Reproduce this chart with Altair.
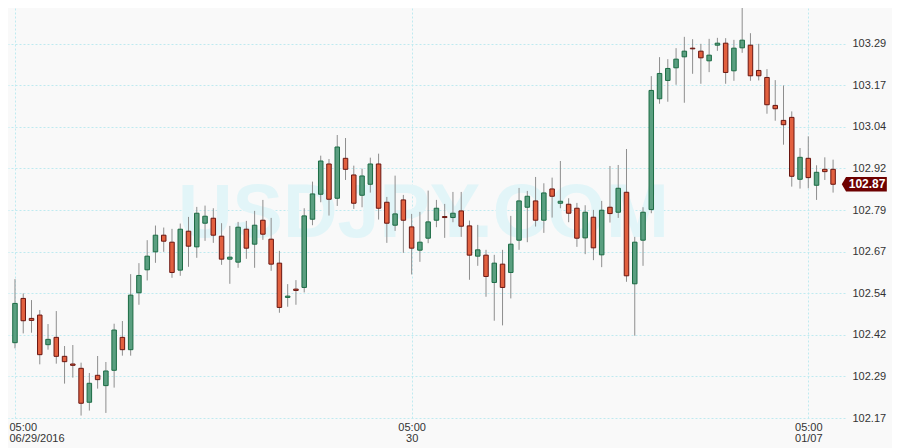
import altair as alt
import pandas as pd

# 30-minute candles, USD/JPY, starting 06/29/2016 05:00
opens = [102.393, 102.526, 102.466, 102.476, 102.387, 102.409, 102.352, 102.329, 102.316, 102.214,
         102.295, 102.264, 102.310, 102.409, 102.372, 102.543, 102.612, 102.666, 102.716, 102.695,
         102.611, 102.728, 102.681, 102.752, 102.767, 102.713, 102.644, 102.635, 102.734, 102.689,
         102.761, 102.704, 102.632, 102.529, 102.554, 102.559, 102.764, 102.839, 102.930, 102.827,
         102.947, 102.897, 102.836, 102.869, 102.930, 102.815, 102.746, 102.822, 102.741, 102.671,
         102.707, 102.761, 102.772, 102.769, 102.789, 102.744, 102.653, 102.656, 102.574, 102.629,
         102.604, 102.701, 102.800, 102.819, 102.761, 102.855, 102.812, 102.809, 102.797, 102.708,
         102.770, 102.657, 102.800, 102.785, 102.845, 102.570, 102.701, 102.793, 103.126, 103.181,
         103.219, 103.252, 103.278, 103.269, 103.240, 103.287, 103.293, 103.210, 103.279, 103.287,
         103.211, 103.190, 103.106, 103.061, 103.070, 102.884, 102.947, 102.866, 102.914, 102.914]
highs = [102.584, 102.541, 102.521, 102.491, 102.449, 102.488, 102.383, 102.386, 102.333, 102.302,
         102.353, 102.335, 102.450, 102.458, 102.599, 102.632, 102.701, 102.745, 102.739, 102.735,
         102.751, 102.771, 102.801, 102.805, 102.797, 102.752, 102.744, 102.756, 102.759, 102.789,
         102.822, 102.768, 102.669, 102.569, 102.581, 102.797, 102.877, 102.955, 102.945, 103.017,
         103.008, 102.925, 102.916, 102.949, 102.961, 102.831, 102.895, 102.837, 102.780, 102.786,
         102.850, 102.822, 102.810, 102.846, 102.846, 102.760, 102.747, 102.672, 102.657, 102.672,
         102.774, 102.858, 102.849, 102.891, 102.872, 102.889, 102.939, 102.827, 102.813, 102.806,
         102.792, 102.819, 102.924, 102.927, 102.975, 102.711, 102.800, 103.194, 103.251, 103.245,
         103.278, 103.312, 103.305, 103.291, 103.306, 103.309, 103.308, 103.303, 103.415, 103.323,
         103.291, 103.215, 103.182, 103.166, 103.088, 102.978, 103.013, 102.926, 102.950, 102.943]
lows = [102.376, 102.421, 102.423, 102.328, 102.372, 102.330, 102.270, 102.288, 102.174, 102.189,
        102.255, 102.182, 102.258, 102.354, 102.354, 102.507, 102.580, 102.633, 102.666, 102.588,
        102.594, 102.621, 102.648, 102.699, 102.693, 102.627, 102.570, 102.618, 102.645, 102.618,
        102.702, 102.609, 102.483, 102.501, 102.507, 102.544, 102.746, 102.815, 102.775, 102.804,
        102.882, 102.795, 102.800, 102.844, 102.763, 102.693, 102.729, 102.663, 102.598, 102.636,
        102.692, 102.740, 102.708, 102.755, 102.711, 102.582, 102.624, 102.531, 102.459, 102.445,
        102.526, 102.672, 102.695, 102.742, 102.723, 102.769, 102.797, 102.755, 102.681, 102.659,
        102.641, 102.620, 102.754, 102.768, 102.576, 102.414, 102.624, 102.782, 103.111, 103.117,
        103.168, 103.114, 103.201, 103.171, 103.206, 103.270, 103.171, 103.180, 103.264, 103.180,
        103.181, 103.081, 103.060, 102.988, 102.862, 102.856, 102.857, 102.822, 102.882, 102.844]
closes = [102.511, 102.459, 102.460, 102.357, 102.403, 102.352, 102.336, 102.325, 102.211, 102.271,
          102.282, 102.308, 102.431, 102.372, 102.536, 102.595, 102.653, 102.716, 102.698, 102.604,
          102.734, 102.683, 102.782, 102.773, 102.716, 102.644, 102.650, 102.740, 102.677, 102.746,
          102.719, 102.629, 102.499, 102.533, 102.550, 102.774, 102.840, 102.939, 102.824, 102.981,
          102.914, 102.812, 102.894, 102.930, 102.797, 102.752, 102.780, 102.761, 102.677, 102.695,
          102.756, 102.797, 102.769, 102.782, 102.743, 102.656, 102.672, 102.592, 102.632, 102.559,
          102.689, 102.819, 102.833, 102.761, 102.843, 102.833, 102.818, 102.782, 102.707, 102.785,
          102.678, 102.791, 102.781, 102.857, 102.594, 102.695, 102.785, 103.151, 103.202, 103.217,
          103.245, 103.269, 103.276, 103.249, 103.257, 103.293, 103.205, 103.278, 103.302, 103.195,
          103.195, 103.108, 103.096, 103.048, 102.893, 102.950, 102.889, 102.905, 102.907, 102.869]

x_tick_index = [0, 48, 96]
x_tick_time = ["05:00", "05:00", "05:00"]
x_tick_date = ["06/29/2016", "30", "01/07"]
y_ticks = [102.1667, 102.2917, 102.4167, 102.5417, 102.6667, 102.7917,
           102.9167, 103.0417, 103.1667, 103.2917]
watermark = "USDJPY.COM"

UP_FILL, UP_STROKE = "#5a9f80", "#1b6b44"
DN_FILL, DN_STROKE = "#e2603f", "#6a1610"
GRID = "#bfeaf0"
FONT = "Liberation Sans"

df = pd.DataFrame({
    "i": list(range(len(opens))),
    "open": opens, "high": highs, "low": lows, "close": closes,
})
df["dir"] = ["up" if c >= o else "down" for o, c in zip(opens, closes)]
last = df.tail(1)

label_expr = " : ".join(
    f"datum.value == {i} ? ['{t}', '{d}']" for i, t, d in zip(x_tick_index, x_tick_time, x_tick_date)
) + " : ''"
first_tick = f"datum.value == {x_tick_index[0]}"

x_enc = alt.X(
    "i:Q",
    scale=alt.Scale(domain=[-0.2391, 99.837], nice=False, zero=False),
    axis=alt.Axis(
        values=x_tick_index, labelExpr=label_expr, title=None, domain=False, ticks=False,
        grid=True, gridColor=GRID, gridDash=[2, 2], gridWidth=1,
        labelPadding=3.5, labelLineHeight=10.5, labelBaseline="top",
        labelAlign={"condition": {"test": first_tick, "value": "left"}, "value": "center"},
        labelOffset={"condition": {"test": first_tick, "value": -6}, "value": 0},
        labelFlush=False, labelOverlap=False,
        labelFont=FONT, labelFontSize=11, labelColor="#333333",
    ),
)
y_scale = alt.Scale(domain=[102.1667, 103.3987], nice=False, zero=False)
y_axis = alt.Axis(
    orient="right", values=y_ticks, format=".2f", title=None, domain=False, ticks=False,
    grid=True, gridColor=GRID, gridDash=[2, 2], gridWidth=1,
    labelPadding=7, labelFont=FONT, labelFontSize=11, labelColor="#333333",
    labelOverlap=False,
)

wm = alt.Chart(pd.DataFrame({"t": [watermark]})).mark_text(
    font=FONT, fontSize=75.5, fontWeight="bold", color="#e2f5f8", align="center", baseline="alphabetic"
).encode(x=alt.value(415.5), y=alt.value(229), text="t:N")

wicks = alt.Chart(df).mark_rule(color="#8e8e8e", strokeWidth=1).encode(
    x=x_enc,
    y=alt.Y("low:Q", scale=y_scale, axis=y_axis),
    y2="high:Q",
)

bodies = alt.Chart(df).mark_bar(size=4.5, strokeWidth=1).encode(
    x="i:Q",
    y="open:Q",
    y2="close:Q",
    fill=alt.Fill("dir:N", scale=alt.Scale(domain=["up", "down"], range=[UP_FILL, DN_FILL]), legend=None),
    stroke=alt.Stroke("dir:N", scale=alt.Scale(domain=["up", "down"], range=[UP_STROKE, DN_STROKE]), legend=None),
)

tag_shape = "M-1,0 L-0.81,-0.32 L1,-0.32 L1,0.32 L-0.81,0.32 Z"
tag = alt.Chart(last).mark_point(
    shape=tag_shape, size=2025, filled=True, fill="#6d0000", opacity=1, strokeWidth=0, xOffset=31.2
).encode(x="i:Q", y="close:Q")

tag_text = alt.Chart(last).mark_text(
    dx=34, font=FONT, fontSize=12, fontWeight="bold", color="white", align="center", baseline="middle"
).encode(x="i:Q", y="close:Q", text=alt.Text("close:Q", format=".2f"))

chart = alt.layer(wm, wicks, bodies, tag, tag_text).properties(
    width=837, height=410,
    autosize=alt.AutoSizeParams(type="none"),
    padding={"left": 0, "top": 0, "right": 47, "bottom": 30},
    background="#f9f9f9",
).configure_view(stroke=None)

chart.save("out.html", embed_options={"renderer": "svg", "actions": False})
